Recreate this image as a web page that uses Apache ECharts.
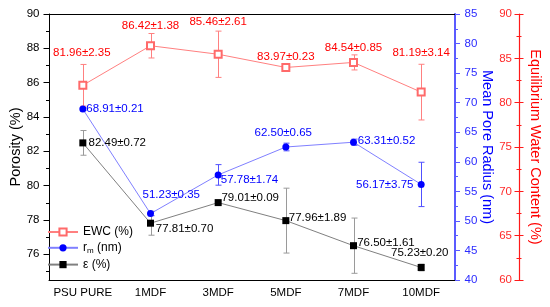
<!DOCTYPE html>
<html>
<head>
<meta charset="utf-8">
<script src="https://cdn.jsdelivr.net/npm/echarts@6/dist/echarts.min.js"></script>
<style>
html,body{margin:0;padding:0;background:#fff;}
#c{width:550px;height:307px;}
</style>
</head>
<body>
<div id="c"></div>
<script>
// ---- data ----
const categories = ['PSU PURE', '1MDF', '3MDF', '5MDF', '7MDF', '10MDF'];
const ewcValues = [81.96, 86.42, 85.46, 83.97, 84.54, 81.19];
const ewcErrors = [2.35, 1.38, 2.61, 0.23, 0.85, 3.14];
const rmValues = [68.91, 51.23, 57.78, 62.50, 63.31, 56.17];
const rmErrors = [0.21, 0.35, 1.74, 0.65, 0.52, 3.75];
const epsValues = [82.49, 77.81, 79.01, 77.96, 76.50, 75.23];
const epsErrors = [0.72, 0.70, 0.09, 1.89, 1.61, 0.20];
const porosityTicks = [76, 78, 80, 82, 84, 86, 88, 90];
const porosityMinorTicks = [75, 77, 79, 81, 83, 85, 87, 89];

// ---- label placement (styling) ----
const ewcLabelLayout = [['center', -1, -32], ['center', 0, -20], ['center', 0, -32.6], ['center', 0, -10.8], ['center', 0, -15], ['center', 0, -39.4]];
const rmLabelLayout = [['left', 3.4, 0], ['left', -8, -18.6], ['left', 2.6, 5], ['center', -2.6, -13.7], ['left', 4.3, -1.5], ['right', -7.7, 0.6]];
const epsLabelLayout = [['left', 5.7, 0], ['left', 5.3, 6], ['left', 3.3, -4.3], ['left', 3, -3], ['left', 3.7, -2.4], ['center', -1.4, -14.2]];

const FONT = 'Liberation Sans, Arial, Helvetica, sans-serif';

function lineData(values, errors, layout) {
  return values.map((v, i) => ({
    value: v,
    label: { align: layout[i][0], offset: [layout[i][1], layout[i][2]] }
  }));
}
function errData(values, errors) {
  return values.map((v, i) => [i, v - errors[i], v + errors[i]]);
}
function errorRender(color) {
  return function (params, api) {
    const i = api.value(0);
    const lo = api.coord([i, api.value(1)]);
    const hi = api.coord([i, api.value(2)]);
    const hw = 3;
    const x = Math.round(lo[0]) + 0.5;
    const style = { stroke: color, lineWidth: 1, fill: null };
    return {
      type: 'group',
      children: [
        { type: 'line', shape: { x1: x, y1: lo[1], x2: x, y2: hi[1] }, style: style },
        { type: 'line', shape: { x1: x - hw, y1: lo[1], x2: x + hw, y2: lo[1] }, style: style },
        { type: 'line', shape: { x1: x - hw, y1: hi[1], x2: x + hw, y2: hi[1] }, style: style }
      ]
    };
  };
}
function fmt(values, errors) {
  return p => values[p.dataIndex].toFixed(2) + '±' + errors[p.dataIndex].toFixed(2);
}

const chart = echarts.init(document.getElementById('c'), null, { renderer: 'canvas' });

const option = {
  animation: false,
  backgroundColor: '#fff',
  textStyle: { fontFamily: FONT },
  grid: { left: 45, right: 93, top: 14, bottom: 27, containLabel: false },
  legend: {
    orient: 'vertical',
    left: 47,
    top: 226,
    padding: 0,
    itemGap: 3.8,
    itemWidth: 30,
    itemHeight: 9,
    data: ['EWC (%)', 'rm (nm)', 'ε (%)'],
    formatter: function (name) {
      if (name === 'rm (nm)') return '{a|r}{s|m}{a| (nm)}';
      return '{a|' + name + '}';
    },
    textStyle: {
      fontFamily: FONT,
      rich: {
        a: { fontSize: 12, color: '#000', fontFamily: FONT, lineHeight: 14 },
        s: { fontSize: 8, color: '#000', fontFamily: FONT, lineHeight: 8, verticalAlign: 'bottom' }
      }
    }
  },
  xAxis: [
    {
      type: 'category',
      data: categories,
      boundaryGap: true,
      position: 'bottom',
      axisLine: { lineStyle: { color: '#000', width: 1 } },
      axisTick: { alignWithLabel: true, length: 5, lineStyle: { color: '#000' } },
      axisLabel: { interval: 0, fontSize: 11.5, color: '#000', margin: 7, fontFamily: FONT },
      splitLine: { show: false }
    },
    {
      type: 'category',
      data: categories,
      position: 'top',
      axisLine: { lineStyle: { color: '#000', width: 1 } },
      axisTick: { show: false },
      axisLabel: { show: false },
      splitLine: { show: false }
    }
  ],
  yAxis: [
    {
      type: 'value',
      position: 'left',
      min: 74.5,
      max: 90,
      name: 'Porosity (%)',
      nameLocation: 'middle',
      nameGap: 26,
      nameRotate: 90,
      nameMoveOverlap: false,
      nameTextStyle: { fontSize: 14.5, color: '#000', fontFamily: FONT },
      axisLine: { show: true, lineStyle: { color: '#000', width: 1 } },
      axisTick: { show: true, length: 5.5, customValues: porosityTicks, lineStyle: { color: '#000' } },
      axisLabel: { fontSize: 11.5, color: '#000', margin: 9.5, customValues: porosityTicks, fontFamily: FONT },
      splitLine: { show: false }
    },
    {
      type: 'value',
      position: 'right',
      min: 40,
      max: 85,
      interval: 5,
      name: 'Mean Pore Radius (nm)',
      nameLocation: 'middle',
      nameGap: 24,
      nameRotate: -90,
      nameMoveOverlap: false,
      nameTextStyle: { fontSize: 14.5, color: '#0000FF', fontFamily: FONT },
      axisLine: { show: true, lineStyle: { color: '#5B5BFF', width: 2 } },
      axisTick: { show: true, length: 5, lineStyle: { color: '#5B5BFF', width: 1 } },
      minorTick: { show: true, splitNumber: 2, length: 3, lineStyle: { color: '#5B5BFF', width: 1 } },
      axisLabel: { fontSize: 11.5, color: '#2B2BFF', margin: 9.5, fontFamily: FONT },
      splitLine: { show: false }
    },
    {
      type: 'value',
      position: 'right',
      offset: 64,
      min: 60,
      max: 90,
      interval: 5,
      name: 'Equilibrium Water Content (%)',
      nameLocation: 'middle',
      nameGap: 8,
      nameRotate: -90,
      nameMoveOverlap: false,
      nameTextStyle: { fontSize: 14.5, color: '#FF0000', fontFamily: FONT },
      axisLine: { show: true, lineStyle: { color: '#FF1A1A', width: 1.2 } },
      axisTick: { show: true, length: 4.5, lineStyle: { color: '#FF1A1A', width: 1 } },
      minorTick: { show: true, splitNumber: 2, length: 2.5, lineStyle: { color: '#FF1A1A', width: 1 } },
      axisLabel: { inside: true, fontSize: 11.5, color: '#FF2A2A', margin: 7, fontFamily: FONT },
      splitLine: { show: false }
    },
    {
      type: 'value',
      position: 'right',
      offset: 64,
      min: 60,
      max: 90,
      interval: 5,
      axisLine: { show: false },
      axisTick: { show: true, inside: true, length: 4.5, lineStyle: { color: '#FF1A1A', width: 1 } },
      minorTick: { show: true, splitNumber: 2, length: 2.5, lineStyle: { color: '#FF1A1A', width: 1 } },
      axisLabel: { show: false },
      splitLine: { show: false }
    },
    {
      type: 'value',
      position: 'left',
      min: 74.5,
      max: 90,
      axisLine: { show: false },
      axisTick: { show: true, length: 3, customValues: porosityMinorTicks, lineStyle: { color: '#000' } },
      axisLabel: { show: false },
      splitLine: { show: false }
    }
  ],
  series: [
    {
      type: 'custom',
      name: 'ewcErr',
      yAxisIndex: 2,
      renderItem: errorRender('#FF8080'),
      encode: { x: 0, y: [1, 2] },
      data: errData(ewcValues, ewcErrors),
      z: 1,
      silent: true
    },
    {
      type: 'custom',
      name: 'rmErr',
      yAxisIndex: 1,
      renderItem: errorRender('#5050FF'),
      encode: { x: 0, y: [1, 2] },
      data: errData(rmValues, rmErrors),
      z: 1,
      silent: true
    },
    {
      type: 'custom',
      name: 'epsErr',
      yAxisIndex: 0,
      renderItem: errorRender('#9A9A9A'),
      encode: { x: 0, y: [1, 2] },
      data: errData(epsValues, epsErrors),
      z: 1,
      silent: true
    },
    {
      type: 'line',
      name: 'EWC (%)',
      yAxisIndex: 2,
      data: lineData(ewcValues, ewcErrors, ewcLabelLayout),
      symbol: 'emptyRect',
      symbolSize: 7,
      lineStyle: { color: '#FF8080', width: 1 },
      itemStyle: { color: '#FF6A6A', borderColor: '#FF6A6A', borderWidth: 1 },
      label: {
        show: true, position: 'inside', verticalAlign: 'middle',
        color: '#FF0000', fontSize: 11.5, fontFamily: FONT,
        formatter: fmt(ewcValues, ewcErrors)
      },
      z: 3
    },
    {
      type: 'line',
      name: 'rm (nm)',
      yAxisIndex: 1,
      data: lineData(rmValues, rmErrors, rmLabelLayout),
      symbol: 'circle',
      symbolSize: 7,
      lineStyle: { color: '#8080FF', width: 1 },
      itemStyle: { color: '#0000FF' },
      label: {
        show: true, position: 'inside', verticalAlign: 'middle',
        color: '#0000FF', fontSize: 11.5, fontFamily: FONT,
        formatter: fmt(rmValues, rmErrors)
      },
      z: 3
    },
    {
      type: 'line',
      name: 'ε (%)',
      yAxisIndex: 0,
      data: lineData(epsValues, epsErrors, epsLabelLayout),
      symbol: 'rect',
      symbolSize: 7,
      lineStyle: { color: '#808080', width: 1 },
      itemStyle: { color: '#000000' },
      label: {
        show: true, position: 'inside', verticalAlign: 'middle',
        color: '#000000', fontSize: 11.5, fontFamily: FONT,
        formatter: fmt(epsValues, epsErrors)
      },
      z: 3
    }
  ]
};
chart.setOption(option);
</script>
</body>
</html>
